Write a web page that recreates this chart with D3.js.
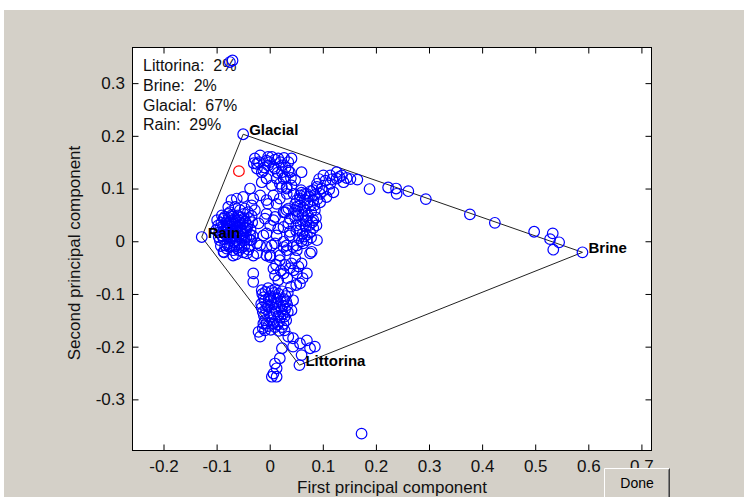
<!DOCTYPE html>
<html><head><meta charset="utf-8">
<script src="https://cdn.jsdelivr.net/npm/d3@7"></script>
<style>
html,body{margin:0;padding:0;background:#fff;}
svg{display:block;font-family:"Liberation Sans",Arial,sans-serif;}
</style></head>
<body>
<svg id="c" width="744" height="497"></svg>
<script>
// ---------- data ----------
const xTicks = [-0.2,-0.1,0,0.1,0.2,0.3,0.4,0.5,0.6,0.7];
const xTickLabels = ["-0.2","-0.1","0","0.1","0.2","0.3","0.4","0.5","0.6","0.7"];
const yTicks = [-0.3,-0.2,-0.1,0,0.1,0.2,0.3];
const yTickLabels = ["-0.3","-0.2","-0.1","0","0.1","0.2","0.3"];

const endNames = ["Glacial","Brine","Littorina","Rain"];
const endX = [-0.050, 0.589, 0.056, -0.128];
const endY = [0.203, -0.021, -0.235, 0.008];

const legendNames = ["Littorina","Brine","Glacial","Rain"];
const legendPct = [2, 2, 67, 29];

const highlighted = [[-0.058, 0.133]];

const outliers = [[-0.075,0.340],[-0.070,0.343],[0.173,-0.365],
  [-0.050,0.203],[-0.128,0.008],[0.056,-0.235],[0.589,-0.021]];

const brineArm = [[0.165,0.117],[0.188,0.099],[0.223,0.102],[0.238,0.100],[0.239,0.090],
  [0.261,0.095],[0.294,0.080],[0.377,0.051],[0.424,0.035],[0.498,0.018],[0.533,0.015],
  [0.528,0.004],[0.545,-0.002],[0.534,-0.016]];

const upperArm = [[0.089,0.109],[0.101,0.125],[0.114,0.125],[0.126,0.119],[0.136,0.125],
  [0.139,0.112],[0.114,0.109],[0.098,0.100],[0.082,0.097],[0.120,0.093],[0.107,0.084],
  [0.095,0.074],[0.126,0.131],[0.089,0.103],[0.070,0.090],[0.057,0.081],[0.048,0.071],
  [0.082,0.078],[0.095,0.090],[0.038,0.131],[0.060,0.131],[0.026,0.119],[0.048,0.116],
  [0.032,0.103],[0.105,0.115],[0.118,0.118],[0.131,0.122],[0.093,0.118],[0.100,0.095],
  [0.112,0.098],[0.085,0.088],[0.145,0.120],[0.152,0.118]];

const midCluster = [[0.057,0.087],[0.066,0.078],[0.076,0.068],[0.057,0.068],[0.048,0.059],
  [0.066,0.059],[0.085,0.059],[0.053,0.049],[0.072,0.049],[0.061,0.040],[0.080,0.036],
  [0.050,0.030],[0.068,0.028],[0.057,0.021],[0.076,0.017],[0.065,0.009],[0.048,0.044],
  [0.087,0.045],[0.063,0.063],[0.074,0.085],[0.051,0.078],[0.082,0.025],[0.055,0.006],
  [0.070,0.002],[0.059,0.097],[0.032,0.059],[0.026,0.027],[0.038,0.018],[0.082,0.040],
  [0.032,-0.008],[0.051,-0.017],[0.079,-0.020],[0.063,-0.004],[0.089,0.002],[0.026,0.055],
  [0.038,0.043],[0.070,0.040],[0.035,0.062],
  [0.060,0.092],[0.071,0.072],[0.078,0.056],[0.054,0.056],[0.062,0.050],[0.068,0.038],
  [0.058,0.032],[0.074,0.030],[0.062,0.014],[0.070,0.012],[0.084,0.068],[0.090,0.080],
  [0.066,0.090],[0.077,0.095],[0.052,0.066],[0.060,0.000],[0.078,0.007],[0.088,0.030],
  [0.045,0.090],[0.050,0.020]];

const topCluster = [[-0.028,0.157],[-0.018,0.163],[-0.006,0.153],[0.004,0.160],[0.016,0.157],
  [0.027,0.158],[0.041,0.157],[-0.024,0.138],[-0.012,0.134],[-0.003,0.144],[0.010,0.138],
  [0.023,0.144],[0.035,0.134],[0.029,0.122],[0.013,0.119],[-0.006,0.119],[-0.015,0.112],
  [0.004,0.106],[0.023,0.103],[0.041,0.106],[-0.024,0.147],[-0.003,0.160],[-0.015,0.131],
  [0.007,0.141],[0.023,0.131],[0.019,0.109],[0.032,0.100],
  [-0.020,0.150],[0.000,0.150],[0.010,0.155],[0.020,0.150],[0.035,0.150],[-0.010,0.140],
  [0.015,0.130],[0.030,0.140],[0.040,0.120],[-0.030,0.148]];

const leftMiddle = [[-0.037,0.100],[-0.050,0.084],[-0.062,0.081],[-0.031,0.081],[-0.018,0.087],
  [-0.006,0.078],[0.007,0.087],[0.019,0.081],[0.032,0.090],[-0.065,0.065],[-0.047,0.062],
  [-0.028,0.059],[-0.078,0.065],[-0.078,0.052],[-0.087,0.043],[-0.006,0.052],[0.010,0.046],
  [0.029,0.055],[0.001,0.030],[0.016,0.024],[0.035,0.034],[-0.006,0.015],[0.013,0.011],
  [0.038,0.011],[-0.072,0.078],[-0.034,0.068],[-0.003,0.071],[0.013,0.071],[-0.009,0.043],
  [0.007,0.040],[-0.021,0.034],[-0.012,0.011],[-0.037,0.002],[-0.024,-0.004],[-0.006,-0.011],
  [0.010,-0.004],[-0.031,-0.027],[-0.043,-0.023],[-0.069,-0.027],[-0.087,-0.020],[0.019,-0.027],
  [0.032,-0.017],[0.044,-0.011],[0.001,-0.030],[-0.018,-0.008],[0.004,-0.008],[0.026,-0.001],
  [-0.006,-0.027],[-0.024,-0.023]];

const rainCluster = [[-0.097,0.030],[-0.090,0.049],[-0.090,0.011],[-0.084,-0.008],[-0.082,0.036],
  [-0.079,0.021],[-0.075,0.055],[-0.075,0.002],[-0.071,0.040],[-0.069,-0.017],[-0.065,0.025],
  [-0.063,0.009],[-0.060,0.049],[-0.060,-0.006],[-0.056,0.030],[-0.054,0.015],[-0.050,-0.021],
  [-0.048,0.044],[-0.047,0.002],[-0.043,0.025],[-0.041,0.055],[-0.039,-0.009],[-0.037,0.013],
  [-0.033,0.036],[-0.094,0.002],[-0.086,-0.021],[-0.079,0.009],[-0.073,0.028],[-0.067,-0.002],
  [-0.062,0.038],[-0.058,-0.017],[-0.052,0.006],[-0.045,0.017],[-0.082,0.025],[-0.095,0.017],
  [-0.065,0.015],[-0.077,0.044],[-0.056,0.059],[-0.069,0.047],[-0.080,-0.006],[-0.048,-0.009],
  [-0.035,0.002],[-0.101,0.021],[-0.092,-0.009],[-0.063,-0.025],
  [-0.099,0.040],[-0.096,0.008],[-0.093,0.026],[-0.091,0.035],[-0.088,0.018],[-0.087,0.004],
  [-0.085,0.046],[-0.083,0.012],[-0.081,-0.014],[-0.080,0.030],[-0.078,0.015],[-0.077,0.035],
  [-0.076,-0.011],[-0.074,0.020],[-0.072,0.006],[-0.071,0.050],[-0.070,0.032],[-0.068,0.018],
  [-0.067,-0.010],[-0.066,0.042],[-0.064,0.002],[-0.062,0.028],[-0.061,0.020],[-0.059,0.040],
  [-0.058,0.010],[-0.057,-0.003],[-0.055,0.045],[-0.054,0.024],[-0.053,-0.012],[-0.051,0.033],
  [-0.050,0.012],[-0.049,0.052],[-0.046,0.038],[-0.044,0.008],[-0.042,0.030],[-0.040,-0.016],
  [-0.039,0.044],[-0.036,0.022],[-0.034,0.048],[-0.032,0.010],[-0.088,0.028],[-0.084,0.022],
  [-0.074,0.038],[-0.070,0.012],[-0.066,0.034],[-0.060,0.016],[-0.056,0.036],[-0.052,0.020],
  [-0.046,0.026],[-0.062,-0.013]];

const lowerCluster = [[0.001,-0.027],[0.026,-0.011],[0.051,-0.008],[0.076,-0.023],[0.019,-0.036],
  [0.041,-0.042],[0.060,-0.042],[-0.031,-0.061],[-0.031,-0.077],[0.007,-0.052],[0.026,-0.061],
  [0.051,-0.061],[0.070,-0.061],[0.016,-0.074],[0.057,-0.080],[0.038,-0.051],[0.048,-0.032],
  [0.029,-0.045],[-0.015,-0.093],[-0.003,-0.089],[0.010,-0.091],[0.023,-0.095],[0.034,-0.098],
  [-0.011,-0.106],[0.001,-0.104],[0.014,-0.108],[0.027,-0.110],[-0.016,-0.119],[-0.005,-0.121],
  [0.006,-0.119],[0.019,-0.123],[0.033,-0.121],[-0.013,-0.134],[-0.001,-0.136],[0.012,-0.133],
  [0.025,-0.138],[-0.009,-0.150],[0.004,-0.150],[0.018,-0.152],[0.031,-0.150],[-0.003,-0.161],
  [0.010,-0.163],[0.023,-0.163],[0.002,-0.112],[0.016,-0.142],[-0.007,-0.129],[0.029,-0.129],
  [0.008,-0.098],[0.044,-0.112],[0.041,-0.131],[-0.012,-0.156],[-0.009,-0.169],[-0.018,-0.181],
  [0.035,-0.181],[0.044,-0.200],[0.057,-0.194],[0.070,-0.188],[0.076,-0.203],[0.085,-0.200],
  [0.060,-0.216],[0.023,-0.203],[0.019,-0.222],[0.013,-0.241],[0.007,-0.251],[0.004,-0.257],
  [0.013,-0.257],[-0.021,-0.172],[0.044,-0.184],[0.010,-0.232],[0.050,-0.083],
  [-0.014,-0.100],[-0.008,-0.096],[0.004,-0.094],[0.017,-0.100],[0.030,-0.104],[-0.010,-0.113],
  [-0.002,-0.110],[0.008,-0.106],[0.021,-0.115],[0.031,-0.114],[-0.015,-0.126],[-0.003,-0.124],
  [0.009,-0.127],[0.022,-0.130],[0.034,-0.134],[-0.011,-0.141],[0.001,-0.143],[0.008,-0.139],
  [0.020,-0.145],[0.028,-0.143],[-0.006,-0.156],[0.007,-0.156],[0.015,-0.158],[0.026,-0.157],
  [0.002,-0.168],[0.017,-0.170],[0.028,-0.169],[-0.013,-0.165],[0.012,-0.117],[0.025,-0.122],
  [0.012,-0.045],[0.033,-0.070],[0.045,-0.055],[0.062,-0.070],[0.021,-0.056],[0.040,-0.086],
  [0.010,-0.065],[0.054,-0.048]];

const samples = [].concat(outliers, brineArm, upperArm, midCluster, topCluster,
  leftMiddle, rainCluster, lowerCluster);

// ---------- drawing ----------
const svg = d3.select("#c");
const FONT = 17;
svg.append("rect").attr("x",4).attr("y",10).attr("width",740).attr("height",487).attr("fill","#d4d0c8");

const L = 132.5, R = 651.5, T = 47.5, B = 450.5;
const x = d3.scaleLinear().domain([-0.2584, 0.719]).range([L, R]);
const y = d3.scaleLinear().domain([-0.397, 0.3676]).range([B, T]);

svg.append("rect").attr("x",L).attr("y",T).attr("width",R-L).attr("height",B-T).attr("fill","#fff");

function styleAxis(g){
  g.select(".domain").remove();
  g.selectAll("line").attr("stroke","#000");
  g.selectAll("text").attr("fill","#111").style("font-size",FONT+"px").style("font-family","'Liberation Sans',Arial,sans-serif");
}
svg.append("g").attr("transform",`translate(0,${B})`)
  .call(d3.axisBottom(x).tickValues(xTicks).tickFormat((d,i)=>xTickLabels[i]).tickSizeInner(-6).tickSizeOuter(0).tickPadding(9))
  .call(styleAxis);
svg.append("g").attr("transform",`translate(0,${T})`)
  .call(d3.axisTop(x).tickValues(xTicks).tickFormat("").tickSizeInner(-6).tickSizeOuter(0))
  .call(styleAxis);
svg.append("g").attr("transform",`translate(${L},0)`)
  .call(d3.axisLeft(y).tickValues(yTicks).tickFormat((d,i)=>yTickLabels[i]).tickSizeInner(-6).tickSizeOuter(0).tickPadding(7.5))
  .call(styleAxis);
svg.append("g").attr("transform",`translate(${R},0)`)
  .call(d3.axisRight(y).tickValues(yTicks).tickFormat("").tickSizeInner(-6).tickSizeOuter(0))
  .call(styleAxis);

svg.append("rect").attr("x",L).attr("y",T).attr("width",R-L).attr("height",B-T)
  .attr("fill","none").attr("stroke","#000").attr("stroke-width",1);

svg.append("text").attr("x",(L+R)/2).attr("y",493).attr("text-anchor","middle")
  .style("font-size",FONT+"px").attr("fill","#111").text("First principal component");
svg.append("text").attr("transform",`translate(80,${(T+B)/2+4}) rotate(-90)`).attr("text-anchor","middle")
  .style("font-size",FONT+"px").attr("fill","#111").text("Second principal component");

const plot = svg.append("g");

plot.selectAll("text.leg").data(legendNames).enter().append("text")
  .attr("class","leg").attr("x",143).attr("y",(d,i)=>71+i*19.8)
  .style("font-size","16px").style("white-space","pre").attr("fill","#111")
  .text((d,i)=>`${d}:  ${legendPct[i]}%`);

const poly = endNames.map((n,i)=>[x(endX[i]), y(endY[i])]);
plot.append("path").attr("d", d3.line()(poly.concat([poly[0]])))
  .attr("fill","none").attr("stroke","#222").attr("stroke-width",1);

plot.selectAll("circle.s").data(samples).enter().append("circle")
  .attr("class","s").attr("cx",d=>x(d[0])).attr("cy",d=>y(d[1])).attr("r",5.3)
  .attr("fill","none").attr("stroke","#0000ff").attr("stroke-width",1.2);
plot.selectAll("circle.h").data(highlighted).enter().append("circle")
  .attr("class","h").attr("cx",d=>x(d[0])).attr("cy",d=>y(d[1])).attr("r",5.3)
  .attr("fill","none").attr("stroke","#ff0000").attr("stroke-width",1.2);

plot.selectAll("text.em").data(endNames).enter().append("text")
  .attr("class","em").attr("x",(d,i)=>x(endX[i])+6).attr("y",(d,i)=>y(endY[i])+1)
  .style("font-size","15px").style("font-weight","bold").attr("fill","#000").text(d=>d);

const btn = svg.append("g");
btn.append("rect").attr("x",604).attr("y",468).attr("width",66).attr("height",30).attr("fill","#d4d0c8");
btn.append("path").attr("d","M604.5,497V468.5H669.5").attr("fill","none").attr("stroke","#ffffff");
btn.append("path").attr("d","M669.5,468.5V497").attr("fill","none").attr("stroke","#404040");
btn.append("path").attr("d","M668.5,469.5V497").attr("fill","none").attr("stroke","#808080");
btn.append("text").attr("x",637).attr("y",488).attr("text-anchor","middle")
  .style("font-size","14px").attr("fill","#000").text("Done");
</script>
</body></html>
